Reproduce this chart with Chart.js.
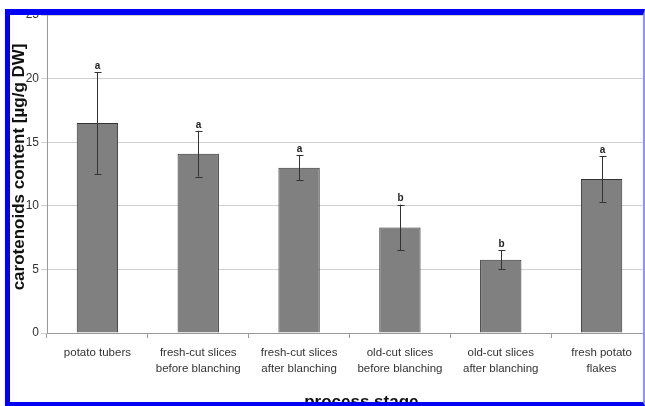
<!DOCTYPE html>
<html>
<head>
<meta charset="utf-8">
<script src="https://cdn.jsdelivr.net/npm/chart.js@4/dist/chart.umd.min.js"></script>
<style>
  html, body { margin: 0; padding: 0; background: #fff; overflow: hidden; width: 645px; height: 406px; }
  #wrap { position: relative; width: 645px; height: 406px; overflow: hidden; }
  #chart { position: absolute; left: 0; top: 0; }
  #frame {
    position: absolute; left: 5px; top: 9px; width: 640px; height: 397px;
    box-sizing: border-box; pointer-events: none;
    border-top: 6px solid #0000f5; border-left: 5px solid #0000f5;
    border-bottom: 4px solid #0000f5; border-right: 2px solid #8a96ff;
  }
</style>
</head>
<body>
<div id="wrap">
  <canvas id="chart" width="652" height="420"></canvas>
  <div id="frame"></div>
</div>
<script>
'use strict';

// Data
const stages = [
  ['potato tubers'],
  ['fresh-cut slices', 'before blanching'],
  ['fresh-cut slices', 'after blanching'],
  ['old-cut slices', 'before blanching'],
  ['old-cut slices', 'after blanching'],
  ['fresh potato', 'flakes']
];
const carotenoids = [16.5, 14.1, 13.0, 8.3, 5.75, 12.1];
const errors = [4.0, 1.8, 1.0, 1.8, 0.75, 1.8];
const groups = ['a', 'a', 'a', 'b', 'b', 'a'];
const yTicks = [0, 5, 10, 15, 20, 25];

const FONT = 'Arial, "Liberation Sans", sans-serif';
const PAD = '\u00a0';

/* --- error bars + significance letters --- */
const errorBars = {
  id: 'errorBars',
  afterDatasetsDraw(chart) {
    const { ctx, scales: { y } } = chart;
    const meta = chart.getDatasetMeta(0);
    ctx.save();
    ctx.strokeStyle = '#333';
    ctx.lineWidth = 1;
    meta.data.forEach((bar, i) => {
      const x = Math.round(bar.x) + 0.5;
      const top = y.getPixelForValue(carotenoids[i] + errors[i]);
      const bot = y.getPixelForValue(carotenoids[i] - errors[i]);
      ctx.beginPath();
      ctx.moveTo(x, top); ctx.lineTo(x, bot);
      ctx.moveTo(x - 3, Math.round(top) + 0.5); ctx.lineTo(x + 4, Math.round(top) + 0.5);
      ctx.moveTo(x - 3, Math.round(bot) + 0.5); ctx.lineTo(x + 4, Math.round(bot) + 0.5);
      ctx.stroke();
      ctx.fillStyle = '#222';
      ctx.font = 'bold 10px ' + FONT;
      ctx.textAlign = 'center';
      ctx.textBaseline = 'bottom';
      ctx.fillText(groups[i], x, top - 1);
    });
    ctx.restore();
  }
};

new Chart(document.getElementById('chart'), {
  type: 'bar',
  data: {
    labels: stages,
    datasets: [{
      data: carotenoids,
      backgroundColor: '#808080',
      borderColor: '#333',
      borderWidth: 1,
      categoryPercentage: 1,
      barPercentage: 0.41
    }]
  },
  options: {
    responsive: false,
    animation: false,
    layout: { padding: { left: 0, right: 0, top: 15, bottom: 0 } },
    plugins: { legend: { display: false }, tooltip: { enabled: false } },
    scales: {
      x: {
        afterFit: s => { s.height = 87; },
        grid: { drawOnChartArea: false, drawTicks: true, tickLength: 5, color: '#999' },
        border: { color: '#999' },
        ticks: { color: '#333', font: { family: FONT, size: 11.5, lineHeight: 1.4 }, padding: 7, maxRotation: 0, autoSkip: false },
        title: { display: true, text: PAD.repeat(5) + 'process stage', color: '#111', font: { family: FONT, size: 17, weight: 'bold' }, padding: { top: 7, bottom: 7 } }
      },
      y: {
        min: 0, max: 25,
        afterFit: s => { s.width = 47; },
        afterBuildTicks: s => { s.ticks = yTicks.map(v => ({ value: v })); },
        grid: { color: '#d0d0d0', tickLength: 6 },
        border: { color: '#999' },
        ticks: { color: '#333', font: { family: FONT, size: 12 }, padding: 2 },
        title: { display: true, text: PAD.repeat(3) + 'carotenoids content [µg/g DW]', color: '#111', font: { family: FONT, size: 17, weight: 'bold' }, padding: { top: 9, bottom: 0 } }
      }
    }
  },
  plugins: [errorBars]
});
</script>
</body>
</html>
